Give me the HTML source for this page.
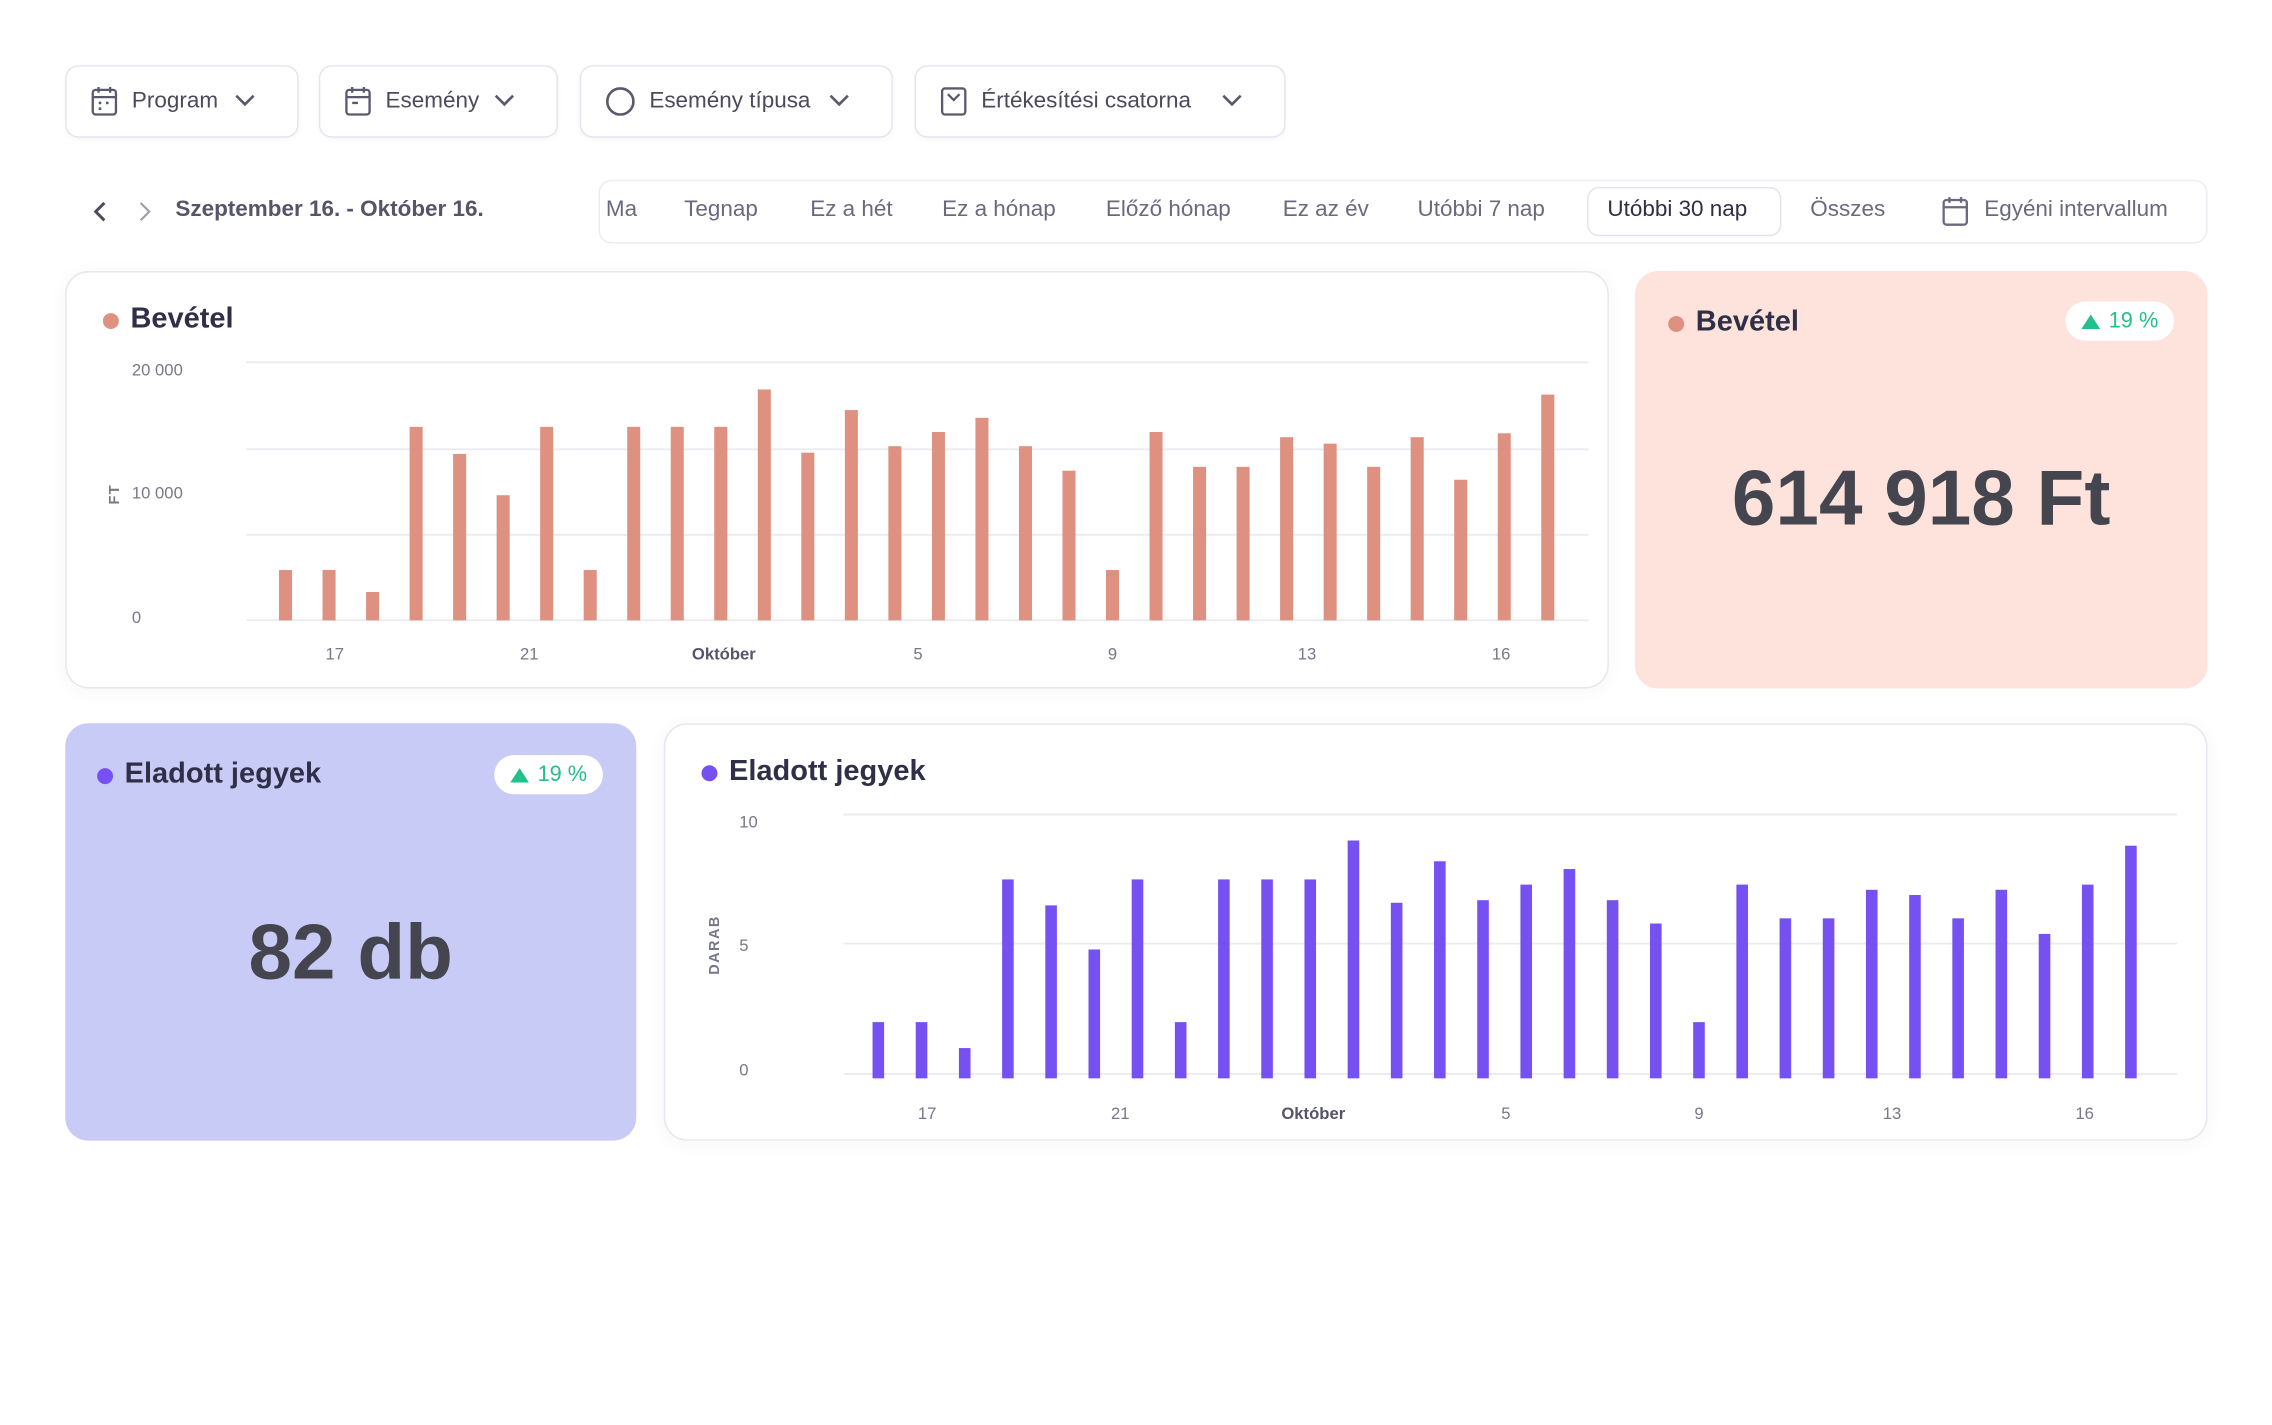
<!DOCTYPE html>
<html><head><meta charset="utf-8">
<style>
html,body{margin:0;padding:0;background:#fff;width:2272px;height:1424px;overflow:hidden}
#root{position:absolute;left:0;top:0;width:1568px;height:983px;transform:scale(1.4494);transform-origin:0 0;font-family:"Liberation Sans",sans-serif;color:#3b3b4f}
.abs{position:absolute}
.btn{position:absolute;top:45px;height:50px;border:1px solid #e4e4ee;border-radius:9px;background:#fff;box-shadow:0 1px 3px rgba(0,0,0,.04);display:flex;align-items:center;font-size:15.5px;color:#4a4a5c;box-sizing:border-box;padding-left:16px}
.btn svg{margin-right:9px}
.chev{position:absolute;right:20px;top:18px}
.tab{position:absolute;top:136px;font-size:15.5px;color:#6a6a7e;white-space:nowrap}
.card{position:absolute;border-radius:16px;box-sizing:border-box}
.white{background:#fff;border:1px solid #e6e6ef;box-shadow:0 2px 14px rgba(0,0,0,.04)}
.title{position:absolute;font-size:20px;font-weight:bold;color:#2f2f48;white-space:nowrap}
.dot{position:absolute;width:11px;height:11px;border-radius:50%}
.badge{position:absolute;background:#fff;border-radius:14px;height:27px;font-size:15px;color:#22c08a;display:flex;align-items:center;justify-content:center;gap:6px}
.big{position:absolute;font-size:54px;font-weight:bold;color:#45454f;text-align:center;white-space:nowrap}
</style></head><body>
<div id="root">
  <div class="btn" style="left:45px;width:161px">
    <svg width="20" height="22" viewBox="0 0 20 22"><rect x="2" y="3" width="16" height="17" rx="2" fill="none" stroke="#5a5a6e" stroke-width="1.6"/><line x1="2" y1="8" x2="18" y2="8" stroke="#5a5a6e" stroke-width="1.6"/><line x1="6" y1="1" x2="6" y2="5" stroke="#5a5a6e" stroke-width="1.6"/><line x1="14" y1="1" x2="14" y2="5" stroke="#5a5a6e" stroke-width="1.6"/><circle cx="7" cy="12" r="1" fill="#5a5a6e"/><circle cx="7" cy="16" r="1" fill="#5a5a6e"/><circle cx="12" cy="12" r="1" fill="#5a5a6e"/></svg>Program
    <svg class="chev" width="14" height="10" viewBox="0 0 14 10"><polyline points="1,2 7,8 13,2" fill="none" stroke="#5a5a6e" stroke-width="1.8"/></svg></div>
  <div class="btn" style="left:220px;width:165px">
    <svg width="20" height="22" viewBox="0 0 20 22"><rect x="2" y="3" width="16" height="17" rx="2" fill="none" stroke="#5a5a6e" stroke-width="1.6"/><line x1="2" y1="8" x2="18" y2="8" stroke="#5a5a6e" stroke-width="1.6"/><line x1="6" y1="1" x2="6" y2="5" stroke="#5a5a6e" stroke-width="1.6"/><line x1="14" y1="1" x2="14" y2="5" stroke="#5a5a6e" stroke-width="1.6"/><line x1="6" y1="12" x2="10" y2="12" stroke="#5a5a6e" stroke-width="1.6"/></svg>Esemény
    <svg class="chev" width="14" height="10" viewBox="0 0 14 10"><polyline points="1,2 7,8 13,2" fill="none" stroke="#5a5a6e" stroke-width="1.8"/></svg></div>
  <div class="btn" style="left:400px;width:216px">
    <svg width="22" height="22" viewBox="0 0 22 22"><circle cx="11" cy="11" r="9" fill="none" stroke="#5a5a6e" stroke-width="1.8"/></svg>Esemény típusa
    <svg class="chev" width="14" height="10" viewBox="0 0 14 10"><polyline points="1,2 7,8 13,2" fill="none" stroke="#5a5a6e" stroke-width="1.8"/></svg></div>
  <div class="btn" style="left:631px;width:256px">
    <svg width="20" height="22" viewBox="0 0 20 22"><rect x="2" y="2" width="16" height="18" rx="2" fill="none" stroke="#5a5a6e" stroke-width="1.6"/><polyline points="6,6 10,10 14,6" fill="none" stroke="#5a5a6e" stroke-width="1.6"/></svg>Értékesítési csatorna
    <svg class="chev" width="14" height="10" viewBox="0 0 14 10"><polyline points="1,2 7,8 13,2" fill="none" stroke="#5a5a6e" stroke-width="1.8"/></svg></div>

  <svg class="abs" style="left:63px;top:138px" width="12" height="16"><polyline points="9,2 3,8 9,14" fill="none" stroke="#4a4a5c" stroke-width="2"/></svg>
  <svg class="abs" style="left:94px;top:138px" width="12" height="16"><polyline points="3,2 9,8 3,14" fill="none" stroke="#9a9aaa" stroke-width="1.4"/></svg>
  <div class="abs" style="left:121px;top:136px;font-size:15.5px;font-weight:bold;color:#55556a">Szeptember 16. - Október 16.</div>

  <div class="abs" style="left:413px;top:124px;width:1110px;height:44px;border:1px solid #ececf3;border-radius:9px;box-sizing:border-box"></div>
  <div class="tab" style="left:418px">Ma</div>
  <div class="tab" style="left:472px">Tegnap</div>
  <div class="tab" style="left:559px">Ez a hét</div>
  <div class="tab" style="left:650px">Ez a hónap</div>
  <div class="tab" style="left:763px">Előző hónap</div>
  <div class="tab" style="left:885px">Ez az év</div>
  <div class="tab" style="left:978px">Utóbbi 7 nap</div>
  <div class="abs" style="left:1095px;top:129px;width:134px;height:34px;border:1px solid #e2e2ec;border-radius:8px;box-sizing:border-box"></div>
  <div class="tab" style="left:1109px;color:#2f2f48">Utóbbi 30 nap</div>
  <div class="tab" style="left:1249px">Összes</div>
  <svg class="abs" style="left:1339px;top:135px" width="20" height="22"><rect x="2" y="3" width="16" height="17" rx="2" fill="none" stroke="#6a6a7e" stroke-width="1.6"/><line x1="2" y1="8" x2="18" y2="8" stroke="#6a6a7e" stroke-width="1.6"/><line x1="6" y1="1" x2="6" y2="5" stroke="#6a6a7e" stroke-width="1.6"/><line x1="14" y1="1" x2="14" y2="5" stroke="#6a6a7e" stroke-width="1.6"/></svg>
  <div class="tab" style="left:1369px">Egyéni intervallum</div>

  <div class="card white" style="left:45px;top:187px;width:1065px;height:288px"></div>
  <div class="dot" style="left:71px;top:216px;background:#de9180"></div>
  <div class="title" style="left:90px;top:209px">Bevétel</div>
  <svg id="rev" class="abs" style="left:0;top:0" width="1568" height="983"></svg>

  <div class="card" style="left:1128px;top:187px;width:395px;height:288px;background:#fde3dc"></div>
  <div class="dot" style="left:1151px;top:218px;background:#de9180"></div>
  <div class="title" style="left:1170px;top:211px">Bevétel</div>
  <div class="badge" style="left:1425px;top:208px;width:75px"><svg width="13" height="10"><polygon points="0,10 6.5,0 13,10" fill="#22c08a"/></svg>19 %</div>
  <div class="big" style="left:1128px;width:395px;top:313px">614 918 Ft</div>

  <div class="card" style="left:45px;top:499px;width:394px;height:288px;background:#c9cbf7"></div>
  <div class="dot" style="left:67px;top:530px;background:#7551f2"></div>
  <div class="title" style="left:86px;top:523px">Eladott jegyek</div>
  <div class="badge" style="left:341px;top:521px;width:75px"><svg width="13" height="10"><polygon points="0,10 6.5,0 13,10" fill="#22c08a"/></svg>19 %</div>
  <div class="big" style="left:45px;width:394px;top:626px">82 db</div>

  <div class="card white" style="left:458px;top:499px;width:1065px;height:288px"></div>
  <div class="dot" style="left:484px;top:528px;background:#7551f2"></div>
  <div class="title" style="left:503px;top:521px">Eladott jegyek</div>
  <svg id="tix" class="abs" style="left:0;top:0" width="1568" height="983"></svg>
</div>
<script>
const revValues=[3900,3900,2200,15000,12900,9700,15000,3900,15000,15000,15000,17900,13000,16300,13500,14600,15700,13500,11600,3900,14600,11900,11900,14200,13700,11900,14200,10900,14500,17500];
const tixValues=[2,2,1,7.5,6.5,4.8,7.5,2,7.5,7.5,7.5,9,6.6,8.2,6.7,7.3,7.9,6.7,5.8,2,7.3,6,6,7.1,6.9,6,7.1,5.4,7.3,8.8];
const xTickLabels=['17','21','Október','5','9','13','16'];
const xTickIndex=[1.13,5.6,10.07,14.53,19,23.47,27.93];
const revYTicks=['20 000','10 000','0'];
const tixYTicks=['10','5','0'];
const NS='http://www.w3.org/2000/svg';
function mk(svg,tag,attrs,txt){const e=document.createElementNS(NS,tag);for(const k in attrs)e.setAttribute(k,attrs[k]);if(txt!==undefined)e.textContent=txt;svg.appendChild(e);return e;}
function chart(id,vals,max,cfg){
  const svg=document.getElementById(id);
  const y=v=>cfg.y0-(v/max)*(cfg.y0-cfg.yTop);
  const x=i=>cfg.x0+i*cfg.step;
  cfg.grid.forEach(gy=>{const l=mk(svg,'line',{x1:cfg.gx1,x2:cfg.gx2,y1:gy,y2:gy,stroke:'#ebebf1','stroke-width':1.3});
    
    });
  cfg.yTicks.forEach((t,k)=>{const e=mk(svg,'text',{x:cfg.ylx,y:cfg.yly[k],'font-size':11.5,fill:'#77778a','font-family':'Liberation Sans, sans-serif'},t);
    
    });
  const at=mk(svg,'text',{x:0,y:0,'font-size':10,'font-weight':'bold',fill:'#77778a','letter-spacing':'1','text-anchor':'middle',transform:`translate(${cfg.ax},${cfg.ay}) rotate(-90)`,'font-family':'Liberation Sans, sans-serif'},cfg.axis);
  
  
  vals.forEach((v,i)=>{const r=mk(svg,'rect',{x:x(i)-cfg.bw/2,y:y(v),width:cfg.bw,height:cfg.y0-y(v)+cfg.over,fill:cfg.color});
    
    });
  xTickLabels.forEach((t,k)=>{const e=mk(svg,'text',{x:x(xTickIndex[k]),y:cfg.xly,'font-size':11.5,fill:t==='Október'?'#55556a':'#77778a','font-weight':t==='Október'?'bold':'normal','text-anchor':'middle','font-family':'Liberation Sans, sans-serif'},t);
    
    });
}
chart('rev',revValues,20000,{x0:197,step:30.03,bw:9,y0:428,yTop:250,over:0,color:'#de9180',grid:[250,310,369,428],gx1:170,gx2:1096,yTicks:revYTicks,ylx:91,yly:[259,344,430],axis:'FT',ax:82,ay:341,xly:455});
chart('tix',tixValues,10,{x0:606,step:29.8,bw:8,y0:741,yTop:562,over:3,color:'#7551f2',grid:[562,651,741],gx1:582,gx2:1502,yTicks:tixYTicks,ylx:510,yly:[571,656,742],axis:'DARAB',ax:496,ay:652,xly:772});
</script>
</body></html>
